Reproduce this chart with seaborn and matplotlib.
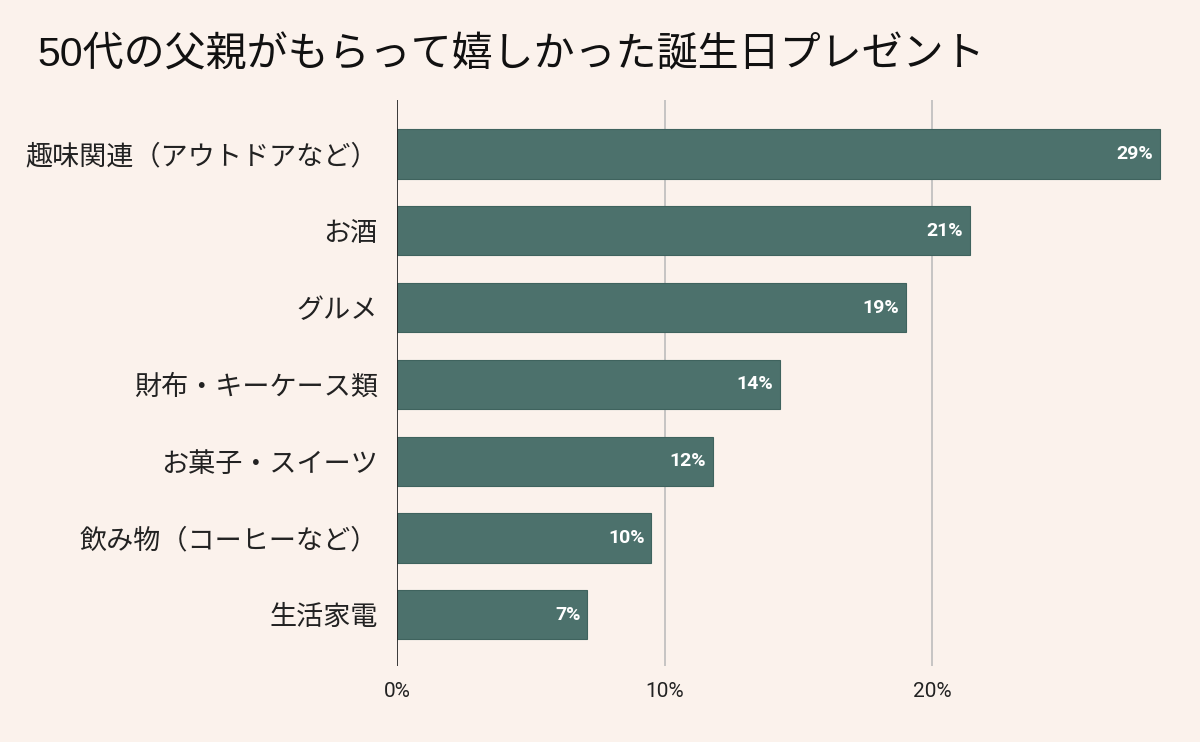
import pandas as pd
import matplotlib
matplotlib.use("Agg")
import matplotlib.pyplot as plt
import seaborn as sns
from matplotlib.ticker import PercentFormatter

# データ
categories = ["趣味関連（アウトドアなど）", "お酒", "グルメ", "財布・キーケース類",
              "お菓子・スイーツ", "飲み物（コーヒーなど）", "生活家電"]
values = [28.5, 21.4, 19.0, 14.3, 11.8, 9.5, 7.1]
labels = ["29%", "21%", "19%", "14%", "12%", "10%", "7%"]

df = pd.DataFrame({"item": categories, "pct": values})

bg = "#fbf2ec"
bar_color = "#4c716c"

sns.set_theme(style="white")
plt.rcParams['font.family'] = ['Noto Sans CJK JP', 'DejaVu Sans']

fig = plt.figure(figsize=(12, 7.42), dpi=100, facecolor=bg)
ax = fig.add_axes([0.331, 0.103, 0.64, 0.762])
ax.set_facecolor(bg)

sns.barplot(data=df, x="pct", y="item", color=bar_color, width=0.64,
            saturation=1, edgecolor="#3f635e", linewidth=0.8, ax=ax, zorder=3)

for i, (v, lab) in enumerate(zip(values, labels)):
    ax.text(v - 0.25, i, lab, ha="right", va="center", color="white",
            fontsize=14, fontweight="bold", family=["Roboto", "DejaVu Sans"],
            zorder=4)

ax.set_xlim(0, 28.7)
ax.set_ylim(6.66, -0.7)
ax.set_xticks([0, 10, 20])
ax.xaxis.set_major_formatter(PercentFormatter(decimals=0))
ax.grid(axis="x", color="#bdbdbd", linewidth=1.2, zorder=0)
ax.axvline(0, color="#222222", linewidth=1.2, zorder=5)

for s in ax.spines.values():
    s.set_visible(False)

ax.tick_params(axis="x", length=0, labelsize=15, pad=12, labelcolor="#222222")
ax.tick_params(axis="y", length=0, labelsize=19.5, pad=14, labelcolor="#222222")
for t in ax.get_xticklabels():
    t.set_family(["Roboto", "DejaVu Sans"])
ax.set_xlabel("")
ax.set_ylabel("")

fig.text(0.031, 0.925, "50代の父親がもらって嬉しかった誕生日プレゼント",
         fontsize=29.5, ha="left", va="center", color="#111111",
         family=["Liberation Sans", "Noto Sans CJK JP"])

plt.savefig("out.png", dpi=100, facecolor=bg)
